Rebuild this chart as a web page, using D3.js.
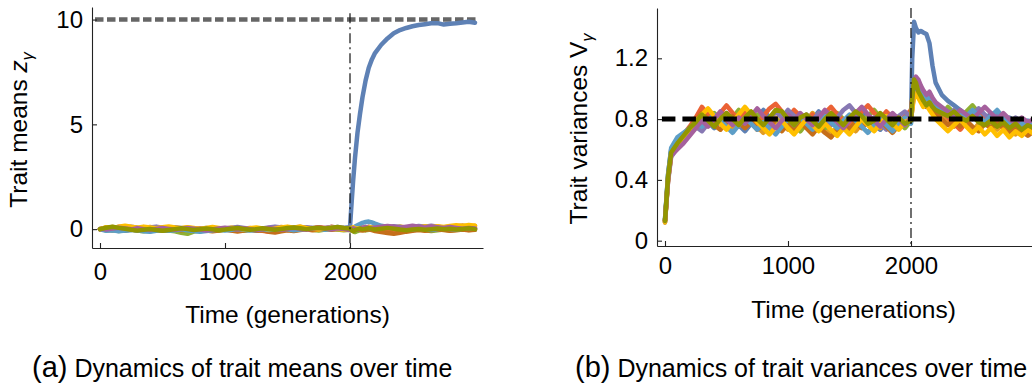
<!DOCTYPE html>
<html>
<head>
<meta charset="utf-8">
<script src="https://cdn.jsdelivr.net/npm/d3@7"></script>
<style>
body { margin: 0; background: #fff; }
svg text { font-family: "Liberation Sans", Arial, Helvetica, sans-serif; fill: #000; }
</style>
</head>
<body>
<div id="chart"></div>
<script>
// generations sampled (denser right after the shift at 2000)
var gens = [0,25,50,100,150,200,250,300,350,400,450,500,
  550,600,650,700,750,800,850,900,950,1000,1050,1100,
  1150,1200,1250,1300,1350,1400,1450,1500,1550,1600,1650,1700,
  1750,1800,1850,1900,1950,2000,2010,2025,2040,2060,2080,2100,
  2125,2150,2175,2200,2250,2300,2350,2400,2450,2500,2550,2600,
  2650,2700,2750,2800,2850,2900,2950,3000];

var colors = ["#5E81B5","#E19C24","#8FB032","#EB6235","#8778B3","#C56E1A","#5D9EC7","#FFBF00","#A5609D","#929600"];

// (a) trait means
var meanA1 = [0,0.02,-0.03,-0.05,0.00,-0.08,-0.04,0.02,-0.06,-0.10,-0.03,0.01,
  -0.05,-0.08,-0.02,0.03,-0.06,-0.10,-0.04,0.00,0.04,-0.02,-0.05,0.01,
  0.03,-0.02,-0.07,-0.03,0.02,0.05,0.00,-0.04,0.02,0.06,0.01,0.04,
  0.08,0.03,0.06,0.10,0.05,0.10,1.0,2.3,3.4,4.6,5.5,6.3,
  7.1,7.7,8.1,8.4,8.8,9.1,9.35,9.5,9.6,9.68,9.74,9.78,
  9.82,9.83,9.76,9.8,9.82,9.86,9.9,9.85];
var meanA2 = [0,0.03,0.06,0.10,0.05,0.12,0.08,0.02,0.06,0.10,0.04,0.08,
  0.02,-0.03,0.04,0.08,0.03,-0.02,0.02,0.06,0.01,-0.03,0.03,0.07,
  0.02,0.05,0.00,-0.05,0.02,0.06,0.10,0.05,0.08,0.12,0.06,0.03,
  0.07,0.02,-0.02,0.04,0.01,0.06,0.03,-0.04,0.02,0.08,0.12,0.06,
  0.10,0.04,0.08,0.12,0.06,0.02,0.08,0.13,0.07,0.03,0.10,0.14,
  0.08,0.12,0.06,0.10,0.15,0.18,0.14,0.16];
var meanA3 = [0,-0.02,-0.06,-0.04,-0.09,-0.05,-0.02,-0.07,-0.10,-0.06,-0.03,-0.08,
  -0.06,-0.10,-0.17,-0.22,-0.12,-0.07,-0.05,-0.02,-0.06,-0.03,0.00,-0.04,
  -0.08,-0.03,0.01,-0.04,-0.08,-0.05,0.00,-0.03,-0.07,-0.02,0.02,-0.03,
  -0.06,-0.02,0.03,-0.02,-0.05,-0.03,-0.06,-0.10,-0.14,-0.09,-0.05,-0.02,
  -0.06,-0.03,0.01,-0.04,-0.07,-0.03,0.00,-0.05,-0.08,-0.04,-0.01,-0.05,
  -0.09,-0.05,-0.02,-0.06,-0.03,0.00,-0.04,-0.02];
var meanA4 = [0,0.04,0.08,0.05,0.10,0.13,0.09,0.05,0.02,0.06,0.03,-0.01,
  0.03,0.07,0.02,-0.02,0.01,0.04,-0.01,-0.05,-0.02,0.02,-0.03,0.00,
  0.04,0.00,-0.04,-0.08,-0.12,-0.07,-0.03,0.02,-0.02,0.03,0.07,0.04,
  0.09,0.05,0.11,0.07,0.03,0.06,0.02,-0.02,0.03,0.06,0.02,-0.02,
  0.02,0.06,0.03,0.00,-0.03,-0.06,-0.02,0.03,0.00,-0.04,-0.01,0.03,
  0.04,0.01,-0.03,0.02,0.05,0.02,0.06,0.03];
var meanA5 = [0,-0.02,0.03,0.07,0.10,0.06,0.11,0.07,0.03,0.08,0.12,0.07,
  0.04,0.09,0.05,0.01,-0.03,0.02,0.06,0.02,-0.02,0.03,0.07,0.10,
  0.06,0.02,-0.02,0.03,0.08,0.12,0.08,0.04,0.00,0.05,0.09,0.05,
  0.02,0.06,0.10,0.06,0.02,-0.02,-0.05,-0.02,0.02,0.05,0.08,0.04,
  0.08,0.12,0.07,0.03,0.06,0.10,0.14,0.10,0.06,0.10,0.15,0.12,
  0.16,0.12,0.08,0.13,0.10,0.06,0.10,0.07];
var meanA6 = [0,-0.03,0.01,-0.04,-0.01,0.03,-0.02,-0.06,-0.03,0.01,-0.04,-0.08,
  -0.04,0.00,-0.05,-0.02,0.02,-0.02,-0.06,-0.10,-0.06,-0.02,-0.07,-0.11,
  -0.07,-0.03,-0.08,-0.05,-0.12,-0.16,-0.10,-0.05,-0.09,-0.04,-0.01,-0.05,
  -0.02,0.02,-0.03,0.01,0.05,0.02,-0.02,-0.06,-0.03,0.00,-0.04,-0.07,
  -0.03,0.00,-0.05,-0.09,-0.14,-0.18,-0.22,-0.17,-0.12,-0.08,-0.04,-0.08,
  -0.05,-0.01,-0.04,-0.08,-0.05,-0.02,-0.05,-0.03];
var meanA7 = [0,-0.04,-0.08,-0.05,-0.10,-0.07,-0.03,-0.06,-0.10,-0.13,-0.08,-0.04,
  -0.08,-0.05,-0.01,-0.05,-0.09,-0.13,-0.09,-0.05,-0.02,-0.06,-0.03,0.01,
  -0.03,-0.07,-0.04,0.00,-0.04,-0.01,0.03,-0.01,-0.05,-0.02,0.02,0.05,
  0.01,-0.03,0.02,0.05,0.02,0.04,0.00,0.06,0.12,0.18,0.24,0.30,
  0.34,0.36,0.32,0.26,0.16,0.10,0.05,0.08,0.03,-0.01,0.03,0.00,
  -0.04,0.00,0.04,0.01,-0.02,0.02,0.05,0.02];
var meanA8 = [0,0.05,0.09,0.05,0.12,0.16,0.11,0.07,0.12,0.08,0.04,0.09,
  0.13,0.08,0.04,0.09,0.05,0.01,0.06,0.10,0.06,0.02,0.07,0.03,
  -0.01,0.04,0.08,0.03,-0.01,0.04,0.08,0.12,0.07,0.11,0.06,0.02,
  -0.02,0.03,0.07,0.02,-0.03,0.00,0.04,0.09,0.05,0.01,0.05,0.02,
  0.06,0.10,0.06,0.02,0.07,0.11,0.07,0.03,0.08,0.12,0.08,0.13,
  0.09,0.14,0.10,0.15,0.19,0.14,0.20,0.16];
var meanA9 = [0,0.02,-0.02,0.03,0.07,0.03,-0.01,0.04,0.00,-0.04,0.01,0.05,
  0.01,-0.03,0.02,0.06,0.02,-0.02,-0.06,-0.02,0.03,0.07,0.03,-0.01,
  0.04,0.00,-0.04,0.01,0.05,0.01,-0.03,0.02,0.06,0.02,-0.02,0.03,
  0.07,0.03,-0.01,0.04,0.00,-0.04,0.00,0.04,0.01,-0.03,0.02,0.06,
  0.10,0.06,0.02,0.07,0.11,0.15,0.11,0.07,0.12,0.16,0.12,0.08,
  0.13,0.09,0.05,0.10,0.06,0.02,0.06,0.03];
var meanA10 = [0,0.03,0.07,0.11,0.06,0.02,-0.03,-0.07,-0.03,0.01,-0.04,-0.08,
  -0.04,0.00,0.04,0.00,-0.04,-0.01,0.03,-0.01,-0.05,-0.02,0.02,0.05,
  0.01,-0.03,0.00,0.04,0.01,-0.03,0.01,0.05,0.08,0.04,0.00,0.04,
  0.07,0.03,0.06,0.10,0.05,0.03,-0.04,-0.10,-0.05,-0.01,0.03,-0.01,
  0.02,0.05,0.01,-0.02,0.02,0.06,0.02,-0.02,-0.05,-0.02,0.01,-0.03,
  0.00,0.03,-0.01,0.02,-0.02,0.01,0.04,0.00];

// (b) trait variances
var varB1 = [0.14,0.44,0.60,0.66,0.70,0.73,0.78,0.82,0.78,0.74,0.79,0.84,
  0.80,0.76,0.72,0.77,0.82,0.86,0.81,0.77,0.73,0.78,0.83,0.79,
  0.75,0.80,0.85,0.81,0.77,0.82,0.78,0.74,0.79,0.84,0.80,0.76,
  0.73,0.78,0.83,0.79,0.75,0.80,1.20,1.44,1.40,1.37,1.38,1.37,
  1.36,1.30,1.15,1.04,0.96,0.92,0.89,0.86,0.83,0.87,0.82,0.79,
  0.84,0.80,0.76,0.81,0.78,0.74,0.78,0.75];
var varB2 = [0.12,0.41,0.57,0.63,0.69,0.74,0.79,0.86,0.81,0.77,0.83,0.78,
  0.74,0.80,0.85,0.79,0.75,0.71,0.76,0.81,0.77,0.73,0.78,0.74,
  0.79,0.84,0.78,0.74,0.70,0.75,0.80,0.76,0.72,0.77,0.82,0.78,
  0.74,0.79,0.75,0.80,0.76,0.79,0.88,0.98,1.00,0.96,0.93,0.90,
  0.92,0.88,0.85,0.87,0.83,0.79,0.75,0.80,0.76,0.72,0.77,0.81,
  0.77,0.73,0.78,0.74,0.70,0.75,0.71,0.74];
var varB3 = [0.13,0.43,0.59,0.64,0.68,0.73,0.78,0.83,0.79,0.84,0.80,0.76,
  0.81,0.86,0.82,0.78,0.83,0.79,0.75,0.80,0.76,0.81,0.77,0.72,
  0.77,0.82,0.78,0.74,0.79,0.84,0.80,0.76,0.81,0.77,0.82,0.86,
  0.81,0.77,0.82,0.78,0.74,0.79,0.92,1.02,1.05,1.00,0.96,0.93,
  0.90,0.93,0.89,0.86,0.83,0.88,0.84,0.80,0.85,0.89,0.84,0.80,
  0.76,0.80,0.75,0.79,0.74,0.77,0.73,0.76];
var varB4 = [0.13,0.40,0.57,0.65,0.70,0.75,0.81,0.88,0.83,0.79,0.84,0.89,
  0.84,0.80,0.85,0.81,0.77,0.82,0.87,0.90,0.85,0.81,0.86,0.82,
  0.78,0.83,0.79,0.84,0.88,0.83,0.79,0.75,0.80,0.85,0.89,0.84,
  0.80,0.85,0.81,0.77,0.82,0.86,0.93,1.01,1.04,1.00,0.97,0.95,
  0.92,0.94,0.90,0.88,0.85,0.81,0.77,0.73,0.78,0.83,0.86,0.82,
  0.78,0.82,0.79,0.75,0.80,0.76,0.72,0.75];
var varB5 = [0.12,0.39,0.55,0.61,0.66,0.70,0.75,0.72,0.77,0.82,0.78,0.74,
  0.79,0.75,0.80,0.84,0.79,0.75,0.80,0.85,0.81,0.86,0.82,0.78,
  0.83,0.79,0.84,0.80,0.76,0.81,0.86,0.89,0.84,0.80,0.76,0.81,
  0.77,0.73,0.78,0.82,0.85,0.81,0.92,1.03,1.07,1.04,1.00,0.98,
  0.95,0.97,0.93,0.89,0.86,0.82,0.86,0.82,0.78,0.83,0.87,0.83,
  0.79,0.84,0.80,0.77,0.81,0.78,0.74,0.77];
var varB6 = [0.13,0.41,0.58,0.64,0.69,0.74,0.79,0.84,0.80,0.76,0.73,0.78,
  0.82,0.78,0.74,0.78,0.73,0.77,0.81,0.76,0.72,0.77,0.73,0.78,
  0.74,0.70,0.75,0.71,0.68,0.73,0.77,0.73,0.78,0.74,0.79,0.75,
  0.79,0.75,0.71,0.76,0.80,0.78,0.87,0.97,1.01,0.97,0.94,0.91,
  0.88,0.90,0.86,0.84,0.80,0.76,0.79,0.75,0.79,0.75,0.72,0.77,
  0.74,0.78,0.74,0.71,0.75,0.72,0.69,0.72];
var varB7 = [0.14,0.43,0.61,0.68,0.71,0.74,0.78,0.75,0.79,0.83,0.79,0.75,
  0.71,0.76,0.81,0.77,0.73,0.78,0.74,0.70,0.75,0.80,0.76,0.81,
  0.77,0.73,0.78,0.82,0.78,0.74,0.79,0.83,0.79,0.75,0.71,0.76,
  0.80,0.76,0.72,0.77,0.81,0.77,0.90,1.00,1.04,1.02,0.98,0.95,
  0.93,0.95,0.91,0.88,0.86,0.84,0.81,0.85,0.82,0.86,0.82,0.78,
  0.82,0.86,0.81,0.77,0.80,0.76,0.79,0.75];
var varB8 = [0.12,0.40,0.56,0.62,0.67,0.73,0.78,0.83,0.87,0.82,0.77,0.73,
  0.78,0.83,0.88,0.83,0.78,0.74,0.70,0.75,0.79,0.74,0.70,0.75,
  0.80,0.76,0.72,0.77,0.73,0.69,0.74,0.70,0.75,0.80,0.76,0.72,
  0.77,0.82,0.77,0.73,0.78,0.80,0.86,0.95,0.97,0.94,0.91,0.88,
  0.90,0.86,0.83,0.80,0.76,0.72,0.76,0.80,0.75,0.71,0.75,0.70,
  0.74,0.69,0.73,0.68,0.72,0.69,0.73,0.70];
var varB9 = [0.13,0.40,0.56,0.60,0.64,0.69,0.74,0.79,0.75,0.80,0.85,0.80,
  0.76,0.81,0.77,0.82,0.87,0.82,0.78,0.74,0.79,0.83,0.79,0.84,
  0.80,0.76,0.81,0.86,0.82,0.78,0.74,0.79,0.84,0.88,0.83,0.79,
  0.75,0.80,0.84,0.80,0.76,0.81,0.93,1.04,1.08,1.06,1.02,0.99,
  0.96,0.98,0.94,0.91,0.88,0.85,0.82,0.86,0.83,0.80,0.84,0.88,
  0.84,0.80,0.84,0.80,0.77,0.81,0.78,0.80];
var varB10 = [0.13,0.42,0.58,0.64,0.69,0.74,0.78,0.83,0.79,0.75,0.80,0.84,
  0.80,0.76,0.81,0.85,0.80,0.76,0.81,0.86,0.85,0.80,0.76,0.81,
  0.83,0.79,0.75,0.80,0.84,0.80,0.76,0.81,0.85,0.82,0.77,0.79,
  0.84,0.80,0.76,0.81,0.77,0.79,0.94,1.06,1.04,0.98,0.95,0.92,
  0.89,0.91,0.88,0.86,0.84,0.82,0.85,0.81,0.79,0.82,0.78,0.76,
  0.79,0.75,0.78,0.74,0.77,0.73,0.76,0.74];

var meanSeries = [meanA1,meanA2,meanA3,meanA4,meanA5,meanA6,meanA7,meanA8,meanA9,meanA10];
var varSeries = [varB1,varB2,varB3,varB4,varB5,varB6,varB7,varB8,varB9,varB10];

var genTicks = [0, 1000, 2000];
var meanTicks = [0, 5, 10];
var varTicks = [0, 0.4, 0.8, 1.2];
var shiftGen = 2000;
var meanOptimum = 10;
var varEquilibrium = 0.8;

var W = 1032, H = 385;
var svg = d3.select("#chart").append("svg")
    .attr("width", W)
    .attr("height", H);

function drawPanel(p) {
  var g = svg.append("g");

  function refLine() {
    g.append("line")
      .attr("x1", p.x(p.refFrom)).attr("x2", p.x(p.refTo))
      .attr("y1", p.y(p.refValue)).attr("y2", p.y(p.refValue))
      .attr("stroke", p.refColor)
      .attr("stroke-width", p.refWidth)
      .attr("stroke-dasharray", p.refDash);
  }

  if (!p.refOnTop) refLine();

  var line = d3.line()
      .x(function(d, i){ return p.x(gens[i]); })
      .y(function(d){ return p.y(d); });

  p.series.forEach(function(s, i){
    g.append("path")
      .datum(s)
      .attr("d", line)
      .attr("fill", "none")
      .attr("stroke", colors[i])
      .attr("stroke-width", p.lineWidth)
      .attr("stroke-linejoin", "round")
      .attr("stroke-linecap", "round");
  });

  if (p.refOnTop) refLine();

  // shift marker at generation 2000
  g.append("line")
    .attr("x1", p.x(shiftGen)).attr("x2", p.x(shiftGen))
    .attr("y1", p.y(p.shiftTop)).attr("y2", p.y.range()[0])
    .attr("stroke", "#111")
    .attr("stroke-width", 1.2)
    .attr("stroke-dasharray", "10,4,2,4");

  var xAxis = g.append("g")
      .attr("transform", "translate(0," + p.y.range()[0] + ")")
      .call(d3.axisBottom(p.x).tickValues(genTicks).tickFormat(d3.format("d"))
        .tickSize(-5).tickSizeOuter(0).tickPadding(p.xPad));
  var yAxis = g.append("g")
      .attr("transform", "translate(" + p.x.range()[0] + ",0)")
      .call(d3.axisLeft(p.y).tickValues(p.ticks).tickSize(-5).tickSizeOuter(0).tickPadding(9).tickFormat(p.fmt));

  [xAxis, yAxis].forEach(function(a){
    a.attr("font-family", null).attr("font-size", 24);
    a.selectAll("path, line").attr("stroke", "#222").attr("stroke-width", 1.1);
    a.selectAll("text").attr("fill", "#000");
  });

  g.append("text")
    .attr("x", (p.x.range()[0] + p.xTitleRight) / 2)
    .attr("y", p.xTitleY)
    .attr("text-anchor", "middle")
    .attr("font-size", 24.5)
    .text("Time (generations)");

  var yt = g.append("text")
    .attr("transform", "translate(" + p.yTitleX + "," + p.yTitleY + ") rotate(-90)")
    .attr("text-anchor", "middle")
    .attr("font-size", 24.5);
  yt.append("tspan").text(p.yTitle + " ");
  yt.append("tspan").attr("font-style", p.symItalic ? "italic" : "normal").text(p.sym);
  yt.append("tspan").attr("font-size", 16).attr("font-style", "italic").attr("dy", 6).text("\u03b3");

  var cap = g.append("text")
    .attr("x", p.capX)
    .attr("y", 377);
  cap.append("tspan").attr("font-size", 29).text(p.capTag);
  cap.append("tspan").attr("font-size", 25).text(" " + p.caption);
}

drawPanel({
  series: meanSeries,
  x: d3.scaleLinear().domain([-64, 3064]).range([92, 483]),
  y: d3.scaleLinear().domain([-0.9, 10.6]).range([248, 7]),
  ticks: meanTicks,
  fmt: d3.format("d"),
  lineWidth: 4.5,
  refValue: meanOptimum, refFrom: -40, refTo: 3020, refOnTop: false,
  refColor: "#666", refWidth: 4.5, refDash: "8.5,3.5",
  shiftTop: 10.3,
  xPad: 15,
  xTitleRight: 483, xTitleY: 323,
  yTitle: "Trait means", sym: "z", symItalic: true,
  yTitleX: 27, yTitleY: 130,
  capX: 32, capTag: "(a)", caption: "Dynamics of trait means over time"
});

drawPanel({
  series: varSeries,
  x: d3.scaleLinear().domain([-65, 3100]).range([657, 1046.3]),
  y: d3.scaleLinear().domain([-0.035, 1.531]).range([246, 8]),
  ticks: varTicks,
  fmt: function(d){ return d === 0 ? "0" : d3.format(".1f")(d); },
  lineWidth: 4.5,
  refValue: varEquilibrium, refFrom: -25, refTo: 3100, refOnTop: true,
  refColor: "#000", refWidth: 5, refDash: "13.5,7",
  shiftTop: 1.531,
  xPad: 11,
  xTitleRight: 1050, xTitleY: 318,
  yTitle: "Trait variances", sym: "V", symItalic: false,
  yTitleX: 587, yTitleY: 129,
  capX: 575, capTag: "(b)", caption: "Dynamics of trait variances over time"
});
</script>
</body>
</html>
